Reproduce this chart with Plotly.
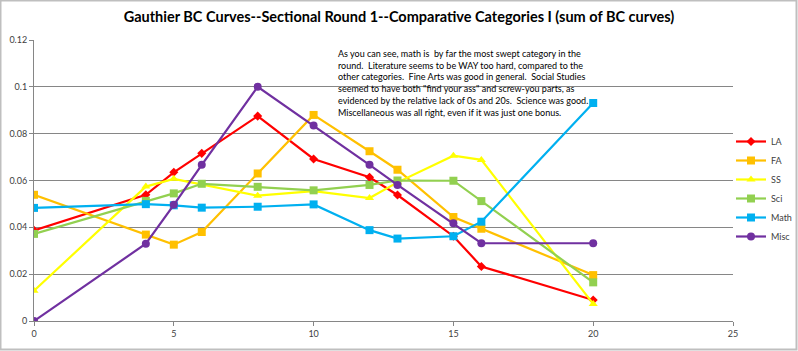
import plotly.graph_objects as go

x_vals = [0, 4, 5, 6, 8, 10, 12, 13, 15, 16, 20]
la = [0.0387, 0.0539, 0.0635, 0.0716, 0.0875, 0.0692, 0.0614, 0.0538, 0.0362, 0.0233, 0.0090]
fa = [0.0539, 0.0369, 0.0326, 0.0380, 0.0630, 0.0880, 0.0725, 0.0646, 0.0444, 0.0394, 0.0196]
ss = [0.0129, 0.0574, 0.0607, 0.0584, 0.0535, 0.0555, 0.0525, 0.0592, 0.0706, 0.0688, 0.0073]
sci = [0.0372, 0.0513, 0.0545, 0.0586, 0.0573, 0.0558, 0.0581, 0.0600, 0.0599, 0.0512, 0.0165]
math = [0.0483, 0.0499, 0.0494, 0.0484, 0.0488, 0.0498, 0.0388, 0.0352, 0.0362, 0.0424, 0.0931]
misc = [0.0, 0.0330, 0.0496, 0.0667, 0.1000, 0.0835, 0.0667, 0.0581, 0.0417, 0.0332, 0.0332]

names = ["LA", "FA", "SS", "Sci", "Math", "Misc"]
series = [la, fa, ss, sci, math, misc]
colors = ["#FF0000", "#FFC000", "#FFFF00", "#92D050", "#00B0F0", "#7030A0"]
symbols = ["diamond", "square", "triangle-up", "square", "square", "circle"]
sizes = [7, 8, 8, 8, 8, 8]

title_text = "Gauthier BC Curves--Sectional Round 1--Comparative Categories I (sum of BC curves)"
note_lines = [
    "As you can see, math is  by far the most swept category in the",
    "round.  Literature seems to be WAY too hard, compared to the",
    "other categories.  Fine Arts was good in general.  Social Studies",
    "seemed to have both \"find your ass\" and screw-you parts, as",
    "evidenced by the relative lack of 0s and 20s.  Science was good.",
    "Miscellaneous was all right, even if it was just one bonus.",
]

W, H = 798, 351
ML, MR, MT, MB = 34, 65, 40, 30

fig = go.Figure()
for name, ys, c, sym, sz in zip(names, series, colors, symbols, sizes):
    fig.add_trace(go.Scatter(
        x=x_vals, y=ys, name=name, mode="lines+markers",
        line=dict(color=c, width=2.2),
        marker=dict(symbol=sym, size=sz, color=c),
    ))

pw = W - ML - MR
ph = H - MT - MB

fig.update_layout(
    width=W, height=H,
    margin=dict(l=ML, r=MR, t=MT, b=MB, autoexpand=False),
    paper_bgcolor="white", plot_bgcolor="white",
    font=dict(family="Lato, Open Sans, sans-serif", size=9, color="#404040"),
    title=dict(text="<b>" + title_text + "</b>", x=0.5, xanchor="center",
               y=1 - 17 / H, yanchor="middle",
               font=dict(size=14.5, color="#000000", family="Lato, sans-serif")),
    xaxis=dict(range=[0, 25], dtick=5, tick0=0, showgrid=False, zeroline=False,
               showline=True, linecolor="#868686", linewidth=1, automargin=False,
               ticks="outside", ticklen=4, tickcolor="#868686",
               tickfont=dict(size=9, color="#404040")),
    yaxis=dict(range=[0, 0.12], dtick=0.02, tick0=0, showgrid=True,
               gridcolor="#868686", gridwidth=1, zeroline=False, automargin=False,
               showline=True, linecolor="#868686", linewidth=1,
               ticks="outside", ticklen=4, tickcolor="#868686",
               tickfont=dict(size=9, color="#404040")),
    legend=dict(x=(731 - ML) / pw, y=(321 - 127) / ph, xanchor="left", yanchor="top",
                font=dict(size=9, color="#404040"), bgcolor="rgba(0,0,0,0)",
                itemwidth=30, tracegroupgap=0),
    showlegend=True,
)

fig.add_annotation(
    xref="paper", yref="paper",
    x=(336 - ML) / pw, y=(321 - 46) / ph,
    xanchor="left", yanchor="top", align="left", showarrow=False,
    text="<br>".join(l.replace("  ", "&nbsp; ") for l in note_lines),
    font=dict(size=9, color="#000000", family="Lato, sans-serif"),
)

fig.add_shape(
    type="rect", xref="paper", yref="paper",
    x0=(-ML + 0.5) / pw, x1=(W - ML - 1.5) / pw,
    y0=(-MB + 1.5) / ph, y1=(H - MB - 0.5) / ph,
    line=dict(color="#BFBFBF", width=2), layer="below",
)

fig.write_html("out.html")
